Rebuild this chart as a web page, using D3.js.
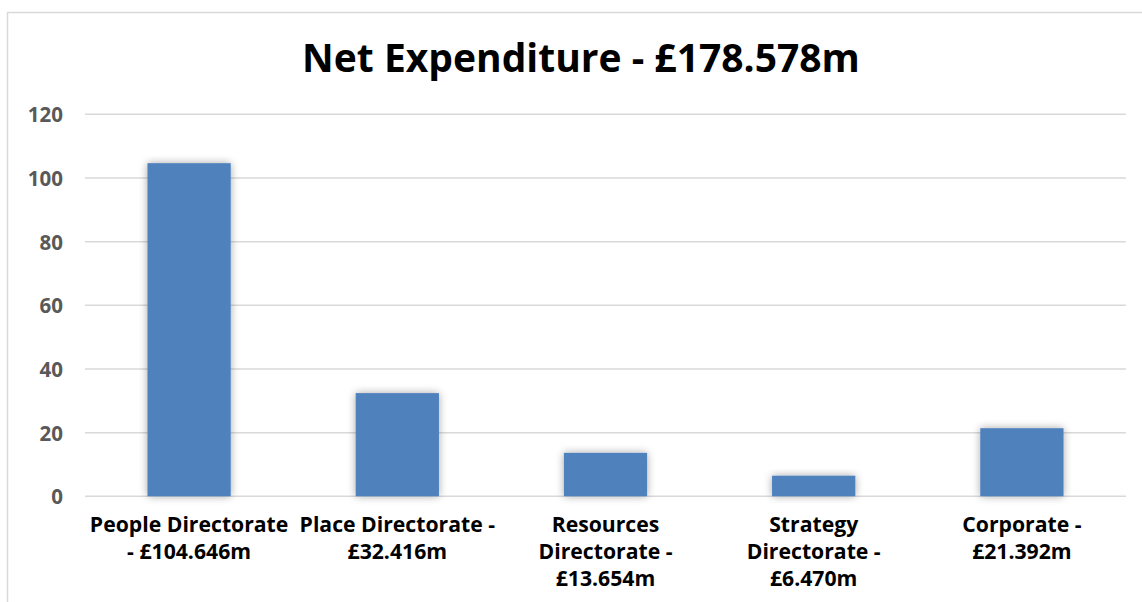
<!DOCTYPE html>
<html>
<head>
<meta charset="utf-8">
<script src="https://cdn.jsdelivr.net/npm/d3@7"></script>
<style>
  html, body { margin: 0; padding: 0; background: #ffffff; }
  svg { display: block; }
</style>
</head>
<body>
<svg id="chart" width="1142" height="602"></svg>
<script>
// Net expenditure by directorate (£m)
const categories = [
  "People Directorate",
  "Place Directorate",
  "Resources Directorate",
  "Strategy Directorate",
  "Corporate"
];
const values = [104.646, 32.416, 13.654, 6.470, 21.392];
const categoryLabelLines = [
  ["People Directorate", "- £104.646m"],
  ["Place Directorate -", "£32.416m"],
  ["Resources", "Directorate -", "£13.654m"],
  ["Strategy", "Directorate -", "£6.470m"],
  ["Corporate -", "£21.392m"]
];
const yTicks = [0, 20, 40, 60, 80, 100, 120];
const titleText = "Net Expenditure - £178.578m";

const svg = d3.select("#chart");
const font = "'Open Sans', 'DejaVu Sans', sans-serif";

// Chart area frame
svg.append("rect")
  .attr("x", 7.5).attr("y", 12.5)
  .attr("width", 1200).attr("height", 700)
  .attr("fill", "#ffffff")
  .attr("stroke", "#d9d9d9")
  .attr("stroke-width", 1.5);

// Soft shadow for the bars
const defs = svg.append("defs");
const filt = defs.append("filter").attr("id", "barShadow")
  .attr("x", "-30%").attr("y", "-30%").attr("width", "160%").attr("height", "160%");
filt.append("feGaussianBlur").attr("in", "SourceAlpha").attr("stdDeviation", 4).attr("result", "blur");
filt.append("feOffset").attr("in", "blur").attr("dx", 0).attr("dy", 0).attr("result", "off");
filt.append("feComponentTransfer").attr("in", "off").attr("result", "soft")
  .append("feFuncA").attr("type", "linear").attr("slope", 0.35);
const merge = filt.append("feMerge");
merge.append("feMergeNode").attr("in", "soft");
merge.append("feMergeNode").attr("in", "SourceGraphic");

const plot = { left: 85, right: 1126, top: 114.3, bottom: 496.3 };

const x = d3.scaleBand()
  .domain(categories)
  .range([plot.left, plot.right])
  .paddingInner(0.6)
  .paddingOuter(0.3);

const y = d3.scaleLinear()
  .domain([0, 120])
  .range([plot.bottom, plot.top]);

// Gridlines
svg.append("g")
  .selectAll("line")
  .data(yTicks)
  .join("line")
  .attr("x1", plot.left).attr("x2", plot.right)
  .attr("y1", d => y(d)).attr("y2", d => y(d))
  .attr("stroke", "#d9d9d9")
  .attr("stroke-width", 1.5);

// Y axis labels
const yAxis = d3.axisLeft(y).tickValues(yTicks).tickSize(0).tickPadding(0);
const yG = svg.append("g")
  .attr("transform", `translate(63,0)`)
  .call(yAxis);
yG.select(".domain").remove();
yG.selectAll("text")
  .attr("font-family", font)
  .attr("font-weight", 700)
  .attr("font-size", 20.5)
  .attr("fill", "#595959")
  .attr("dy", "0.36em");

// Bars
svg.append("g")
  .selectAll("rect")
  .data(values)
  .join("rect")
  .attr("x", (d, i) => x(categories[i]))
  .attr("width", x.bandwidth())
  .attr("y", d => y(d))
  .attr("height", d => y(0) - y(d))
  .attr("fill", "#4f81bd")
  .attr("filter", "url(#barShadow)");

// Category labels
const labels = svg.append("g")
  .selectAll("text")
  .data(categoryLabelLines)
  .join("text")
  .attr("text-anchor", "middle")
  .attr("font-family", font)
  .attr("font-weight", 700)
  .attr("font-size", 21.2)
  .attr("fill", "#000000");
labels.each(function(lines, i) {
  const cx = x(categories[i]) + x.bandwidth() / 2;
  d3.select(this).selectAll("tspan")
    .data(lines)
    .join("tspan")
    .attr("x", cx)
    .attr("y", (d, j) => 532 + j * 27)
    .text(d => d);
});

// Title
svg.append("text")
  .attr("x", 581)
  .attr("y", 72)
  .attr("text-anchor", "middle")
  .attr("font-family", font)
  .attr("font-weight", 700)
  .attr("font-size", 39)
  .attr("fill", "#000000")
  .text(titleText);
</script>
</body>
</html>
